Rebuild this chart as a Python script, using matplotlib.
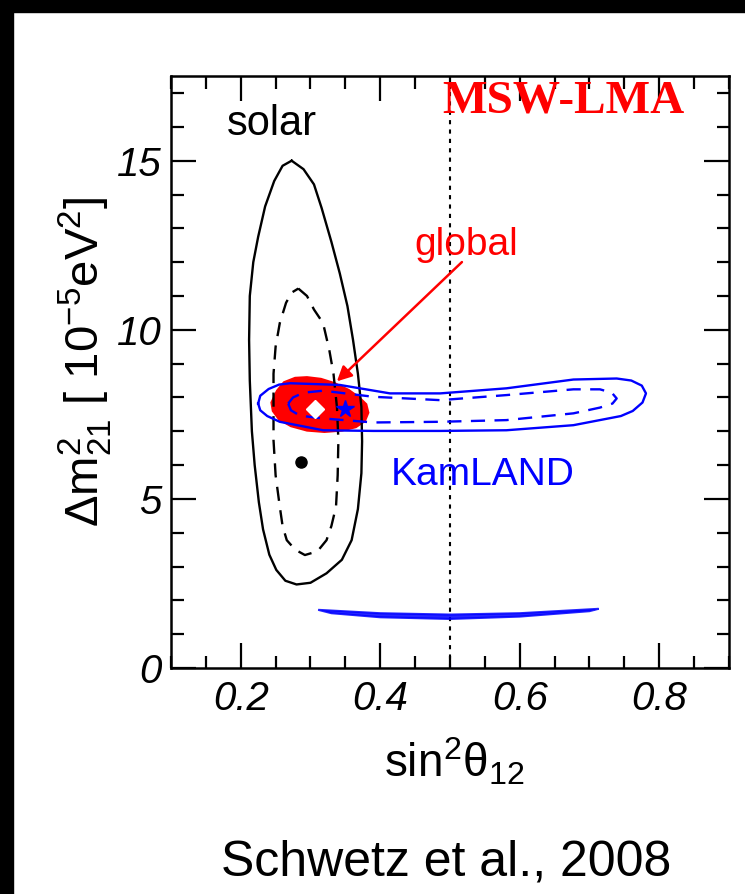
import matplotlib
matplotlib.use('Agg')
import matplotlib.pyplot as plt
from matplotlib.patches import Rectangle, Polygon
from matplotlib.ticker import MultipleLocator

plt.rcParams['font.family'] = ['Liberation Sans', 'DejaVu Sans']
plt.rcParams['mathtext.default'] = 'regular'

# solar 3 sigma (solid) contour
solar_x = [0.273, 0.290, 0.305, 0.316, 0.330, 0.342, 0.353, 0.361, 0.368, 0.373, 0.374,
           0.373, 0.368, 0.359, 0.345, 0.323, 0.300, 0.280, 0.264, 0.251, 0.241, 0.232,
           0.226, 0.220, 0.216, 0.213, 0.212, 0.213, 0.218, 0.225, 0.235, 0.248, 0.260, 0.273]
solar_y = [15.0, 14.75, 14.3, 13.6, 12.6, 11.67, 10.7, 9.7, 8.7, 7.72, 6.7,
           5.76, 4.7, 3.78, 3.2, 2.8, 2.52, 2.47, 2.58, 2.9, 3.35, 4.1,
           4.9, 6.0, 7.0, 8.5, 9.7, 11.0, 12.0, 12.75, 13.65, 14.4, 14.85, 15.0]

# solar inner (dashed) contour
solar_in_x = [0.2826, 0.295, 0.305, 0.318, 0.327, 0.333, 0.338, 0.340, 0.339, 0.3366, 0.330,
              0.323, 0.310, 0.292, 0.278, 0.266, 0.260, 0.256, 0.250, 0.247, 0.247, 0.247,
              0.250, 0.256, 0.265, 0.273, 0.2826]
solar_in_y = [11.22, 11.0, 10.6, 10.2, 9.4, 8.7, 7.7, 6.74, 5.7, 4.77, 4.2,
              3.78, 3.45, 3.34, 3.5, 3.78, 4.2, 4.77, 5.7, 6.74, 7.7, 8.7,
              9.5, 10.2, 10.8, 11.1, 11.22]

# KamLAND outer (solid)
kam_x = [0.225, 0.228, 0.240, 0.255, 0.271, 0.342, 0.414, 0.486, 0.581, 0.677, 0.739,
         0.760, 0.775, 0.781, 0.776, 0.762, 0.745, 0.677, 0.581, 0.486, 0.390, 0.318,
         0.256, 0.238, 0.228, 0.225]
kam_y = [7.82, 8.05, 8.25, 8.38, 8.42, 8.37, 8.12, 8.12, 8.27, 8.53, 8.56,
         8.50, 8.35, 8.12, 7.85, 7.60, 7.45, 7.18, 7.03, 7.01, 7.01, 7.03,
         7.28, 7.45, 7.62, 7.82]

# KamLAND inner (dashed)
kam_in_x = [0.268, 0.275, 0.290, 0.318, 0.390, 0.486, 0.581, 0.677, 0.715, 0.732, 0.739,
            0.733, 0.715, 0.677, 0.581, 0.486, 0.390, 0.318, 0.285, 0.272, 0.268]
kam_in_y = [7.82, 8.00, 8.14, 8.20, 8.02, 7.92, 8.07, 8.24, 8.24, 8.14, 7.97,
            7.82, 7.70, 7.53, 7.33, 7.28, 7.26, 7.38, 7.46, 7.62, 7.82]

# KamLAND low-dm2 island
kam_low_x = [0.311, 0.400, 0.500, 0.600, 0.713, 0.700, 0.600, 0.500, 0.400, 0.330, 0.311]
kam_low_y = [1.72, 1.62, 1.58, 1.62, 1.75, 1.68, 1.52, 1.45, 1.50, 1.62, 1.72]

# global fit region (filled)
glob_x = [0.244, 0.252, 0.262, 0.278, 0.295, 0.315, 0.335, 0.355, 0.370, 0.380, 0.383,
          0.378, 0.365, 0.345, 0.320, 0.295, 0.272, 0.255, 0.246, 0.244]
glob_y = [7.85, 8.20, 8.45, 8.58, 8.60, 8.55, 8.42, 8.22, 8.00, 7.80, 7.55,
          7.30, 7.12, 7.02, 6.98, 7.02, 7.15, 7.35, 7.60, 7.85]

solar_best = (0.287, 6.1)
global_best = (0.306, 7.67)
kam_best = (0.349, 7.65)

fig = plt.figure(figsize=(7.45, 8.94), dpi=100)
fig.patch.set_facecolor('white')
fig.patches.append(Rectangle((0, 1 - 12 / 894), 1, 12 / 894, transform=fig.transFigure,
                             color='black', zorder=10))
fig.patches.append(Rectangle((0, 0), 13 / 745, 1, transform=fig.transFigure,
                             color='black', zorder=10))

ax = fig.add_axes([0.2295, 0.2528, 0.749, 0.662])

ax.add_patch(Polygon(list(zip(glob_x, glob_y)), closed=True, facecolor='red',
                     edgecolor='red', lw=1.5, zorder=2))
ax.add_patch(Polygon(list(zip(kam_low_x, kam_low_y)), closed=True, facecolor='blue',
                     edgecolor='blue', lw=1.5, alpha=0.85, zorder=2))

ax.plot(solar_x, solar_y, color='black', lw=1.7, zorder=3)
ax.plot(solar_in_x, solar_in_y, color='black', lw=1.7, ls=(0, (6, 4)), zorder=3)
ax.plot(kam_x, kam_y, color='blue', lw=1.7, zorder=4)
ax.plot(kam_in_x, kam_in_y, color='blue', lw=1.7, ls=(0, (6, 4)), zorder=4)

ax.plot(*solar_best, 'o', color='black', ms=8, zorder=5)
ax.plot(*global_best, 'D', color='white', ms=9, zorder=5)
ax.plot(*kam_best, '*', color='blue', ms=13, zorder=5)

ax.axvline(0.5, color='black', lw=1.5, ls=(0, (2, 2.5)), zorder=1)

ax.annotate('', xy=(0.335, 8.42), xytext=(0.52, 12.06),
            arrowprops=dict(arrowstyle='-|>', color='red', lw=1.8, mutation_scale=22))

ax.text(0.245, 16.1, 'solar', fontsize=30, color='black', ha='center', va='center')
ax.text(0.524, 12.5, 'global', fontsize=28, color='red', ha='center', va='center')
ax.text(0.547, 5.7, 'KamLAND', fontsize=28, color='blue', ha='center', va='center')
ax.text(0.662, 16.75, 'MSW-LMA', fontsize=34, color='red', ha='center', va='center',
        family='Liberation Serif', fontweight='bold')

ax.set_xlim(0.1, 0.9)
ax.set_ylim(0, 17.5)
ax.xaxis.set_minor_locator(MultipleLocator(0.05))
ax.yaxis.set_minor_locator(MultipleLocator(1))
ax.set_xticks([0.2, 0.4, 0.6, 0.8])
ax.set_xticklabels(['0.2', '0.4', '0.6', '0.8'])
ax.set_yticks([0, 5, 10, 15])
ax.set_yticklabels(['0', '5', '10', '15'])
ax.tick_params(which='both', direction='in', top=True, right=True, width=1.6)
ax.tick_params(which='major', length=18)
ax.tick_params(which='minor', length=9)
ax.tick_params(axis='x', which='major', pad=9)
ax.tick_params(axis='y', which='major', pad=7)
for lab in ax.get_xticklabels() + ax.get_yticklabels():
    lab.set_fontsize(29)
    lab.set_style('italic')
for s in ax.spines.values():
    s.set_linewidth(1.8)

fig.text(85 / 745, 1 - 362 / 894, r'$\Delta$m$^2_{21}$ [ 10$^{-5}$eV$^2$]', rotation=90,
         fontsize=34, ha='center', va='center')
fig.text(454 / 745, 1 - 762 / 894, r'sin$^2$θ$_{12}$', fontsize=33, ha='center', va='center')
fig.text(446 / 745, 1 - 862 / 894, 'Schwetz et al., 2008', fontsize=36,
         ha='center', va='center')

fig.savefig('out.png', dpi=100)
